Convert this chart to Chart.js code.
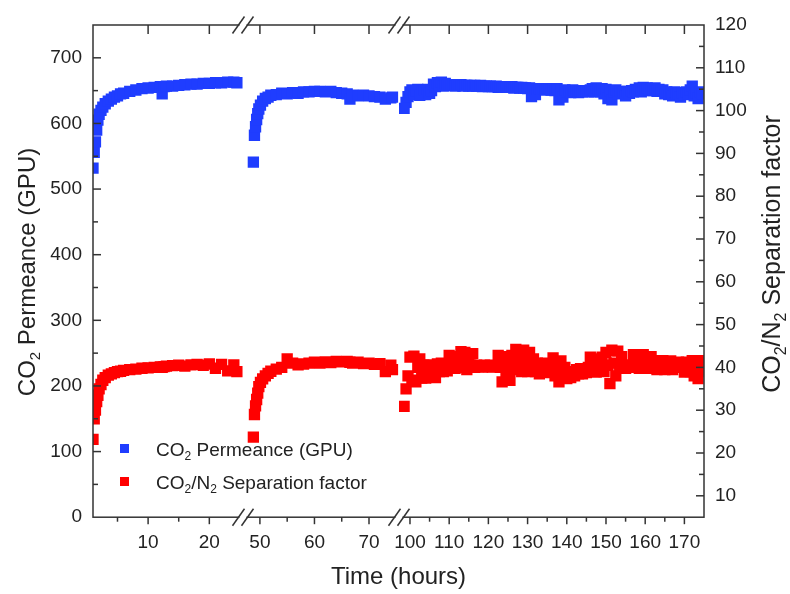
<!DOCTYPE html>
<html>
<head>
<meta charset="utf-8">
<script src="https://cdn.jsdelivr.net/npm/chart.js@4.4.0/dist/chart.umd.min.js"></script>
<style>
  html, body { margin: 0; padding: 0; background: #fff; }
</style>
</head>
<body>
<canvas id="chart" width="790" height="594"></canvas>
<script>
// run 1 (0-25 h)
const time1 = [1.0, 1.2, 1.4, 1.6, 1.8, 2.0, 2.3, 2.6, 3.0, 3.5, 4, 4.5, 5, 5.5, 6, 7, 8, 9, 10, 11,
  12, 12.3, 12.6, 13, 14, 15, 16, 17, 18, 19, 20, 21, 22, 23, 24, 24.5];
const perm1 = [532, 556, 572, 590, 605, 614, 620, 625, 630, 634, 637, 640, 642, 645, 646, 649, 651, 653, 654, 655,
  656, 645, 656, 657, 657, 658, 659, 660, 660, 661, 661, 662, 662, 663, 663, 662];
const sep1 = [23.2, 28.0, 30.0, 32.0, 33.5, 35.0, 36.0, 37.0, 37.6, 38.2, 38.5, 38.8, 39.0, 39.1, 39.3, 39.5, 39.6, 39.8, 39.9, 40.0,
  40.1, 40.0, 40.2, 40.3, 40.4, 40.5, 40.3, 40.6, 40.7, 40.5, 40.8, 39.8, 40.7, 39.2, 40.6, 39.0];

// run 2 (47-75 h)
const time2 = [48.8, 49.0, 49.2, 49.4, 49.6, 49.8, 50.1, 50.5, 51, 51.5, 52, 53, 54, 55, 56, 57, 58, 59, 60, 61,
  62, 63, 64, 65, 66, 66.5, 67, 68, 69, 70, 71, 72, 73, 74, 74.3];
const perm2 = [541, 582, 595, 606, 615, 622, 628, 634, 638, 640, 643, 644, 646, 645, 647, 646, 648, 648, 649, 649,
  648, 649, 647, 646, 645, 637, 643, 642, 643, 642, 641, 640, 637, 639, 640];
const sep2 = [23.7, 29.0, 31.0, 32.5, 34.0, 35.5, 36.5, 37.3, 38.0, 38.6, 39.1, 39.6, 40.0, 42.0, 41.0, 40.6, 40.8, 41.0, 41.2, 41.0,
  41.3, 41.1, 41.4, 41.3, 41.4, 41.2, 41.0, 41.2, 40.9, 41.0, 40.7, 40.9, 39.0, 40.5, 39.5];

// run 3 (97-175 h)
const time3 = [
  98.5, 99, 99.5, 100, 100.5, 101, 101.5, 102, 102.5, 103,
  103.5, 104, 104.5, 105, 105.5, 106, 106.5, 107, 107.5, 108,
  108.5, 109, 109.5, 110, 110.5, 111, 111.5, 112, 112.5, 113,
  113.5, 114, 114.5, 115, 115.5, 116, 116.5, 117, 117.5, 118,
  118.5, 119, 119.5, 120, 120.5, 121, 121.5, 122, 122.5, 123,
  123.5, 124, 124.5, 125, 125.5, 126, 126.5, 127, 127.5, 128,
  128.5, 129, 129.5, 130, 130.5, 131, 131.5, 132, 132.5, 133,
  133.5, 134, 134.5, 135, 135.5, 136, 136.5, 137, 137.5, 138,
  138.5, 139, 139.5, 140, 140.5, 141, 141.5, 142, 142.5, 143,
  143.5, 144, 144.5, 145, 145.5, 146, 146.5, 147, 147.5, 148,
  148.5, 149, 149.5, 150, 150.5, 151, 151.5, 152, 152.5, 153,
  153.5, 154, 154.5, 155, 155.5, 156, 156.5, 157, 157.5, 158,
  158.5, 159, 159.5, 160, 160.5, 161, 161.5, 162, 162.5, 163,
  163.5, 164, 164.5, 165, 165.5, 166, 166.5, 167, 167.5, 168,
  168.5, 169, 169.5, 170, 170.5, 171, 171.5, 172, 172.5, 173,
  173.5, 174, 174.5];
const perm3 = [
  623, 632, 641, 648, 651, 644, 650, 652, 643, 649,
  651, 644, 652, 646, 650, 660, 656, 662, 658, 663,
  657, 661, 658, 659, 658, 659, 657, 659, 658, 659,
  657, 658, 658, 657, 658, 657, 658, 657, 657, 658,
  656, 657, 657, 656, 657, 656, 656, 657, 655, 656,
  656, 655, 656, 655, 655, 656, 654, 655, 655, 654,
  655, 654, 654, 653, 654, 641, 653, 644, 652, 653,
  652, 653, 651, 652, 653, 651, 652, 650, 653, 636,
  650, 640, 651, 648, 650, 647, 651, 648, 650, 647,
  650, 648, 649, 650, 648, 651, 653, 648, 654, 652,
  648, 653, 645, 652, 638, 650, 636, 648, 651, 645,
  649, 647, 648, 642, 649, 646, 650, 648, 652, 649,
  654, 648, 655, 650, 654, 651, 653, 650, 654, 649,
  652, 650, 651, 645, 648, 644, 647, 642, 648, 645,
  646, 640, 647, 644, 648, 645, 651, 657, 642, 647,
  638, 648, 645];
const sep3 = [
  30.9, 35.0, 38.0, 42.4, 37.0, 42.6, 36.6, 40.0, 42.0, 37.5,
  40.5, 37.5, 39.0, 40.6, 38.0, 39.5, 37.6, 40.8, 39.0, 41.0,
  39.0, 40.8, 39.2, 42.8, 40.0, 42.5, 39.8, 41.5, 40.0, 43.7,
  41.0, 43.5, 39.5, 42.0, 40.5, 43.2, 40.0, 40.5, 40.2, 40.4,
  40.1, 40.5, 40.3, 40.2, 40.5, 40.1, 40.4, 40.3, 42.8, 40.0,
  36.6, 42.5, 38.5, 40.5, 37.0, 42.8, 39.5, 44.2, 41.0, 43.0,
  39.0, 44.0, 41.5, 39.0, 43.5, 40.5, 42.0, 39.0, 41.0, 38.5,
  40.5, 39.0, 41.0, 38.8, 40.5, 39.5, 42.2, 38.0, 40.5, 36.6,
  41.5, 38.5, 40.0, 37.4, 38.5, 37.6, 39.0, 38.0, 39.5, 38.5,
  39.7, 38.5, 39.5, 38.8, 40.0, 42.4, 39.5, 41.5, 38.9, 42.0,
  40.0, 42.4, 39.0, 43.5, 40.5, 36.2, 44.0, 41.0, 38.0, 43.8,
  40.0, 42.5, 40.5, 39.8, 40.5, 40.0, 40.4, 43.0, 40.0, 42.5,
  39.8, 41.5, 43.0, 40.5, 42.0, 39.8, 42.5, 40.0, 41.6, 39.5,
  41.2, 40.0, 41.6, 39.5, 41.0, 40.2, 41.5, 39.5, 40.8, 40.0,
  41.2, 40.5, 41.0, 38.9, 41.2, 40.0, 39.0, 41.6, 38.0, 40.5,
  37.4, 41.6, 39.0];

// tick labels
const permTicks = [0, 100, 200, 300, 400, 500, 600, 700];
const sepTicks = [10, 20, 30, 40, 50, 60, 70, 80, 90, 100, 110, 120];
const xTicks1 = [10, 20];
const xTicks2 = [50, 60, 70];
const xTicks3 = [100, 110, 120, 130, 140, 150, 160, 170];

const FONT = '"Liberation Sans", Arial, Helvetica, sans-serif';
const BLUE = '#1f3dff';
const RED = '#ff0000';
const INK = '#222';

function pts(t, v) {
  return t.map((x, i) => ({ x: x, y: v[i] }));
}

function series(label, t, v, xId, yId, color) {
  return {
    label: label,
    data: pts(t, v),
    xAxisID: xId,
    yAxisID: yId,
    showLine: false,
    pointStyle: 'rect',
    pointRadius: 8,
    pointHoverRadius: 8,
    pointBorderWidth: 0,
    backgroundColor: color,
    borderColor: color
  };
}

function timeAxis(min, max, weight, ticks, minorStep) {
  return {
    type: 'linear', position: 'bottom', stack: 'time', stackWeight: weight,
    min: min, max: max, minorStep: minorStep,
    grid: { display: false, drawTicks: false },
    border: { display: false },
    ticks: { autoSkip: false, maxRotation: 0, padding: 14, color: INK, font: { size: 19, family: FONT } },
    afterBuildTicks: s => { s.ticks = ticks.map(v => ({ value: v })); },
    afterFit: s => { s.height = 42; }
  };
}

// text with subscripts: parts = [[text, isSub], ...]
function richText(ctx, parts, x, y, size, align) {
  const sub = Math.round(size * 0.62);
  let w = 0;
  parts.forEach(p => {
    ctx.font = (p[1] ? sub : size) + 'px ' + FONT;
    w += ctx.measureText(p[0]).width;
  });
  let cx = align === 'center' ? x - w / 2 : x;
  ctx.textBaseline = 'alphabetic';
  ctx.textAlign = 'left';
  parts.forEach(p => {
    ctx.font = (p[1] ? sub : size) + 'px ' + FONT;
    ctx.fillText(p[0], cx, y + (p[1] ? size * 0.22 : 0));
    cx += ctx.measureText(p[0]).width;
  });
}

const permLabel = [['CO', false], ['2', true], [' Permeance (GPU)', false]];
const sepLabel = [['CO', false], ['2', true], ['/N', false], ['2', true], [' Separation factor', false]];

const framePlugin = {
  id: 'frame',
  afterDraw(chart) {
    const ctx = chart.ctx;
    const a = chart.chartArea;
    const sc = chart.scales;
    ctx.save();
    ctx.strokeStyle = '#333';
    ctx.lineWidth = 1.5;
    ctx.strokeRect(a.left, a.top, a.right - a.left, a.bottom - a.top);

    function line(x1, y1, x2, y2) {
      ctx.beginPath(); ctx.moveTo(x1, y1); ctx.lineTo(x2, y2); ctx.stroke();
    }
    // x ticks: bottom outward (major + minor), top inward (major)
    ['x1', 'x2', 'x3'].forEach(id => {
      const s = sc[id];
      s.ticks.forEach(t => {
        const px = s.getPixelForValue(t.value);
        line(px, a.bottom, px, a.bottom + 7);
        line(px, a.top, px, a.top + 9);
      });
      const step = s.options.minorStep;
      for (let v = Math.ceil(s.min / step) * step; v <= s.max; v += step) {
        const px = s.getPixelForValue(v);
        if (px - s.left < 6 || s.right - px < 6) continue;
        if (s.ticks.some(t => t.value === v)) continue;
        line(px, a.bottom, px, a.bottom + 4.5);
      }
    });
    // y ticks inward
    [['y', 50, a.left, 1], ['y2', 5, a.right, -1]].forEach(([id, step, x0, dir]) => {
      const s = sc[id];
      for (let v = Math.ceil(s.min / step) * step; v <= s.max; v += step) {
        const py = s.getPixelForValue(v);
        if (py - a.top < 3 || a.bottom - py < 3) continue;
        const major = s.ticks.some(t => t.value === v);
        line(x0, py, x0 + dir * (major ? 8 : 5), py);
      }
    });
    // axis breaks
    [sc.x1.right, sc.x2.right].forEach(bx => {
      [a.top, a.bottom].forEach(y => {
        ctx.fillStyle = '#fff';
        ctx.fillRect(bx - 3.5, y - 2, 7, 4);
        line(bx - 4.5 - 6, y + 8.5, bx - 4.5 + 6, y - 8.5);
        line(bx + 4.5 - 6, y + 8.5, bx + 4.5 + 6, y - 8.5);
      });
    });

    // legend
    ctx.fillStyle = BLUE;
    ctx.fillRect(120, 444, 9, 9);
    ctx.fillStyle = RED;
    ctx.fillRect(120, 477, 9, 9);
    ctx.fillStyle = INK;
    richText(ctx, permLabel, 156, 456, 19, 'left');
    richText(ctx, sepLabel, 156, 489, 19, 'left');

    // y axis titles
    ctx.save();
    ctx.translate(35, 272);
    ctx.rotate(-Math.PI / 2);
    richText(ctx, permLabel, 0, 0, 24, 'center');
    ctx.restore();
    ctx.save();
    ctx.translate(780, 254);
    ctx.rotate(-Math.PI / 2);
    richText(ctx, sepLabel, 0, 0, 25, 'center');
    ctx.restore();
    ctx.restore();
  }
};

new Chart(document.getElementById('chart'), {
  type: 'scatter',
  data: {
    datasets: [
      series('CO₂ Permeance (GPU)', time1, perm1, 'x1', 'y', BLUE),
      series('CO₂ Permeance (GPU)', time2, perm2, 'x2', 'y', BLUE),
      series('CO₂ Permeance (GPU)', time3, perm3, 'x3', 'y', BLUE),
      series('CO₂/N₂ Separation factor', time1, sep1, 'x1', 'y2', RED),
      series('CO₂/N₂ Separation factor', time2, sep2, 'x2', 'y2', RED),
      series('CO₂/N₂ Separation factor', time3, sep3, 'x3', 'y2', RED)
    ]
  },
  options: {
    responsive: false,
    animation: false,
    events: [],
    layout: { padding: { top: 25, left: 0, right: 0, bottom: 0 } },
    plugins: {
      legend: { display: false },
      tooltip: { enabled: false },
      title: {
        display: true,
        text: 'Time (hours)',
        position: 'bottom',
        fullSize: false,
        color: INK,
        font: { size: 24, weight: 'normal', family: FONT },
        padding: { top: 4, bottom: 2 }
      }
    },
    scales: {
      x1: timeAxis(1, 25.5, 150, xTicks1, 5),
      x2: timeAxis(46.9, 75.5, 156, xTicks2, 5),
      x3: timeAxis(97.2, 175, 305, xTicks3, 5),
      y: {
        type: 'linear', position: 'left', min: 0, max: 750,
        grid: { display: false, drawTicks: false },
        border: { display: false },
        ticks: { padding: 11, color: INK, font: { size: 19, family: FONT } },
        afterBuildTicks: s => { s.ticks = permTicks.map(v => ({ value: v })); },
        afterFit: s => { s.width = 93; }
      },
      y2: {
        type: 'linear', position: 'right', min: 5, max: 120,
        grid: { display: false, drawTicks: false },
        border: { display: false },
        ticks: { padding: 11, color: INK, font: { size: 19, family: FONT } },
        afterBuildTicks: s => { s.ticks = sepTicks.map(v => ({ value: v })); },
        afterFit: s => { s.width = 86; }
      }
    }
  },
  plugins: [framePlugin]
});
</script>
</body>
</html>
